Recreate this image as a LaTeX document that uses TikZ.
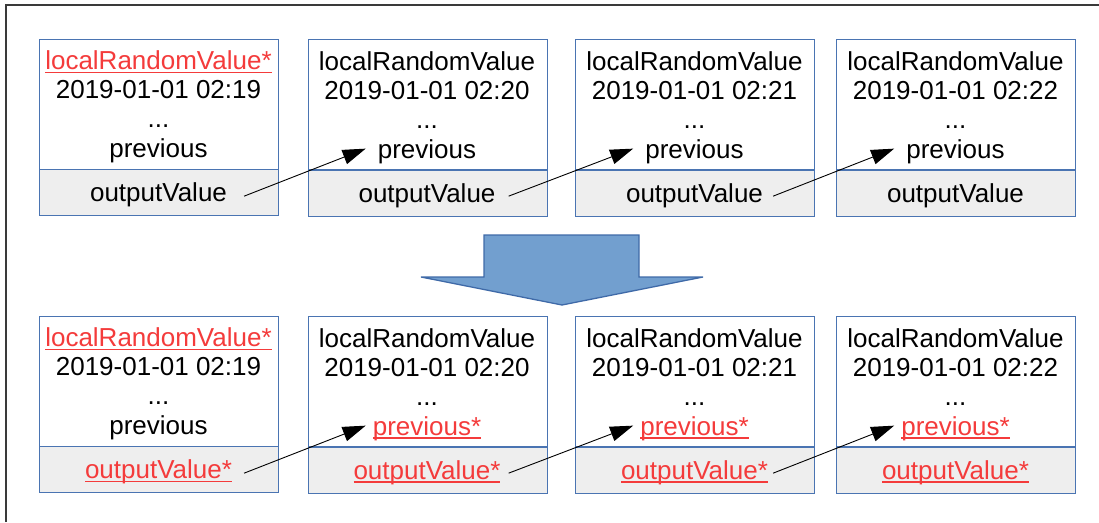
\documentclass[tikz,border=0pt]{standalone}
\usepackage{fontspec}
\setmainfont{Liberation Sans}
\usetikzlibrary{arrows.meta}

\definecolor{boxline}{HTML}{4A74B2}
\definecolor{boxfill}{HTML}{EEEEEE}
\definecolor{redtext}{HTML}{F43B3B}
\definecolor{bigfill}{HTML}{729FCF}
\definecolor{bigline}{HTML}{3F6AA8}
\definecolor{framecol}{HTML}{3A3A3A}

% red text with a fixed underline
\newsavebox\ulbox
\newcommand\redul[1]{\sbox\ulbox{\color{redtext}#1}%
  \rlap{\color{redtext}\rule[-3.6pt]{\wd\ulbox}{1.5pt}}\usebox\ulbox}

% one record: name, left x, top y, line 1, line 2, previous text, output text
\newcommand\record[7]{%
  \node[upperbox, anchor=north west] (u#1) at (#2,#3) {};
  \node[lowerbox, anchor=north west] (l#1) at ({#2},{#3+130.5}) {};
  \node[txt] (a#1) at ({#2+119.5},{#3+31}) {#4};
  \node[txt] (b#1) at ({#2+119.5},{#3+60}) {#5};
  \node[txt] (d#1) at ({#2+119.5},{#3+89}) {...};
  \node[txt] (p#1) at ({#2+119.5},{#3+119}) {#6};
  \node[txt] (o#1) at ({#2+119.5},{#3+163}) {#7};
}

\begin{document}
\begin{tikzpicture}[x=1pt,y=-1pt,
  upperbox/.style={draw=boxline, line width=1.3pt, fill=white,
    minimum width=239pt, minimum height=130pt, inner sep=0pt},
  lowerbox/.style={draw=boxline, line width=1.3pt, fill=boxfill,
    minimum width=239pt, minimum height=46pt, inner sep=0pt},
  txt/.style={anchor=base, inner sep=0pt, text=black, font=\fontsize{26}{30}\selectfont},
  flow/.style={-{Triangle[length=23pt,width=15pt]}, line width=0.9pt, black},
  bigarrow/.style={fill=bigfill, draw=bigline, line width=1.3pt, line join=miter}]

\useasboundingbox (0,0) rectangle (1099,522);

% outer frame (only its top and left edges fall inside the page)
\draw[framecol, line width=1.5pt] (6,522) -- (6,5) -- (1099,5);

% before: first row
\record{11}{39}{38.5}{\redul{localRandomValue*}}{2019-01-01 02:19}{previous}{outputValue}
\record{12}{307.5}{39}{localRandomValue}{2019-01-01 02:20}{previous}{outputValue}
\record{13}{575}{39}{localRandomValue}{2019-01-01 02:21}{previous}{outputValue}
\record{14}{836}{39}{localRandomValue}{2019-01-01 02:22}{previous}{outputValue}

% after: second row
\record{21}{39}{315.5}{\redul{localRandomValue*}}{2019-01-01 02:19}{previous}{\redul{outputValue*}}
\record{22}{307.5}{316}{localRandomValue}{2019-01-01 02:20}{\redul{previous*}}{\redul{outputValue*}}
\record{23}{575}{316}{localRandomValue}{2019-01-01 02:21}{\redul{previous*}}{\redul{outputValue*}}
\record{24}{836}{316}{localRandomValue}{2019-01-01 02:22}{\redul{previous*}}{\redul{outputValue*}}

% links from each output to the next record's previous
\foreach \r in {1,2} {
  \draw[flow] ([xshift=85pt,yshift=-3.5pt]l\r1.center) -- ([xshift=-62pt,yshift=-44pt]u\r2.center);
  \draw[flow] ([xshift=81pt,yshift=-3pt]l\r2.center) -- ([xshift=-62pt,yshift=-44pt]u\r3.center);
  \draw[flow] ([xshift=78pt,yshift=-3pt]l\r3.center) -- ([xshift=-62pt,yshift=-44pt]u\r4.center);
}

% transition arrow between the rows
\draw[bigarrow] (484,235) -- (639,235) -- (639,277) -- (703,277)
  -- (562,305) -- (421,277) -- (484,277) -- cycle;

\end{tikzpicture}
\end{document}
